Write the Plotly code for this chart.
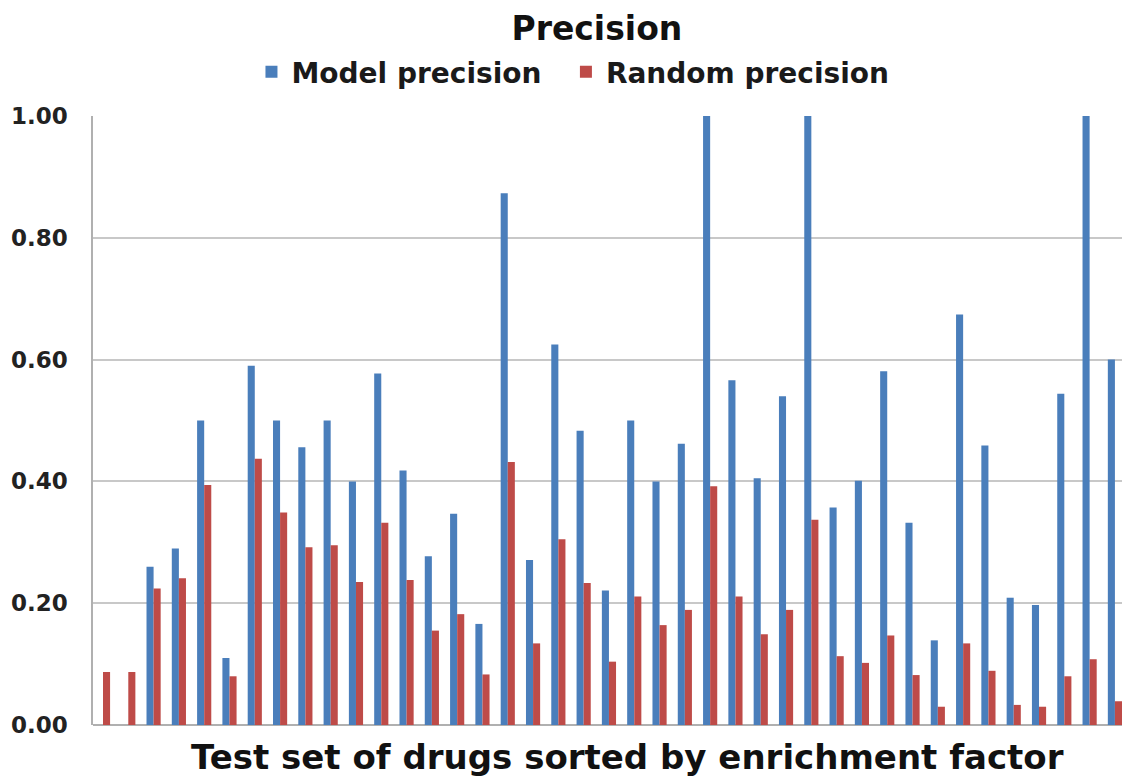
import plotly.graph_objects as go

drugs = list(range(1, 42))
model_precision = [0.0, 0.0, 0.26, 0.29, 0.50, 0.11, 0.59, 0.50, 0.456, 0.50,
                   0.40, 0.577, 0.418, 0.277, 0.347, 0.166, 0.873, 0.271, 0.625, 0.483,
                   0.221, 0.50, 0.40, 0.462, 1.00, 0.566, 0.405, 0.54, 1.00, 0.357,
                   0.401, 0.581, 0.332, 0.139, 0.674, 0.459, 0.209, 0.197, 0.544, 1.00,
                   0.60]
random_precision = [0.087, 0.087, 0.224, 0.241, 0.394, 0.080, 0.437, 0.349, 0.292, 0.295,
                    0.235, 0.332, 0.238, 0.155, 0.182, 0.083, 0.432, 0.134, 0.305, 0.233,
                    0.104, 0.211, 0.164, 0.189, 0.392, 0.211, 0.149, 0.189, 0.337, 0.113,
                    0.102, 0.147, 0.082, 0.030, 0.134, 0.089, 0.033, 0.030, 0.080, 0.108,
                    0.039]
y_ticks = [0.0, 0.2, 0.4, 0.6, 0.8, 1.0]
y_tick_labels = ["0.00", "0.20", "0.40", "0.60", "0.80", "1.00"]

BLUE = "#4A7EBB"
RED = "#BE4B48"
FONT = "DejaVu Sans"

fig = go.Figure()
fig.add_trace(go.Bar(x=drugs, y=model_precision, name="Model precision\u00a0\u00a0",
                     marker=dict(color=BLUE, line=dict(width=0))))
fig.add_trace(go.Bar(x=drugs, y=random_precision, name="Random precision",
                     marker=dict(color=RED, line=dict(width=0))))

fig.update_layout(
    width=1122, height=781,
    margin=dict(l=93, r=0, t=116, b=56),
    paper_bgcolor="white", plot_bgcolor="white",
    barmode="group", bargap=0.44, bargroupgap=0.0,
    title=dict(text="<b>Precision</b>", x=0.532, xanchor="center", y=1 - 28 / 781, yanchor="middle",
               font=dict(family=FONT, size=33, color="#111")),
    legend=dict(orientation="h", x=0.154, xanchor="left", y=1.072, yanchor="middle",
                font=dict(family=FONT, size=28, color="#1a1a1a", weight="bold"),
                itemwidth=30, traceorder="normal", bgcolor="rgba(0,0,0,0)"),
    showlegend=True,
)
fig.update_xaxes(range=[0.605, 41.28], showticklabels=False, showgrid=False,
                 zeroline=False, showline=False, ticks="")
fig.update_yaxes(range=[0, 1.0], tickvals=y_ticks, ticktext=[f"<b>{t}</b>" for t in y_tick_labels],
                 showgrid=True, gridcolor="#C8C8C8", gridwidth=1.5,
                 zeroline=True, zerolinecolor="#B0B0B0", zerolinewidth=1.5,
                 showline=True, linecolor="#B0B0B0", linewidth=1.5,
                 ticks="", ticklabelstandoff=19,
                 tickfont=dict(family=FONT, size=23, color="#222"))

fig.add_annotation(text="<b>Test set of drugs sorted by enrichment factor</b>",
                   xref="paper", yref="paper", x=0.519, y=-0.0525,
                   xanchor="center", yanchor="middle", showarrow=False,
                   font=dict(family=FONT, size=34, color="#111"))

fig.write_html("out.html", config={"displayModeBar": False},
               post_script="document.body.style.margin='0';document.body.style.overflow='hidden';")
